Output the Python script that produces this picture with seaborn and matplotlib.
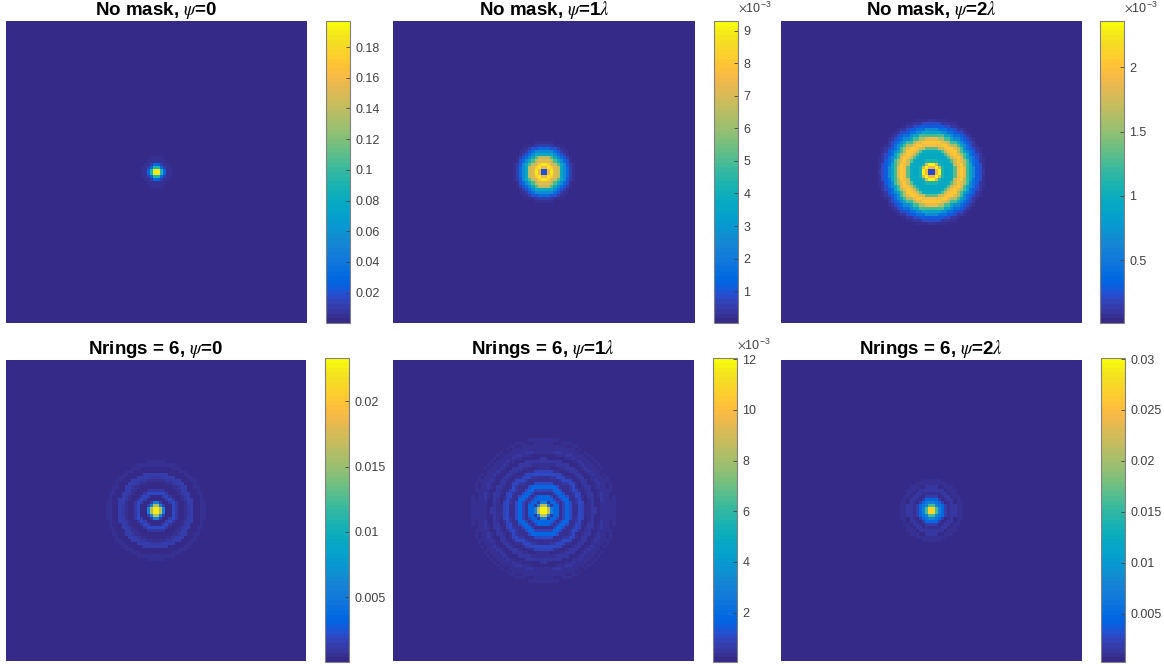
import numpy as np
import matplotlib
matplotlib.use("Agg")
import matplotlib.pyplot as plt
from matplotlib.colors import ListedColormap
import seaborn as sns

# MATLAB parula colormap (R2017a version)
parula = ListedColormap([
    [0.2081,0.1663,0.5292],[0.2116,0.1898,0.5777],[0.2123,0.2138,0.6270],[0.2081,0.2386,0.6771],
    [0.1959,0.2645,0.7279],[0.1707,0.2919,0.7792],[0.1253,0.3242,0.8303],[0.0591,0.3598,0.8683],
    [0.0117,0.3875,0.8820],[0.0060,0.4086,0.8828],[0.0165,0.4266,0.8786],[0.0329,0.4430,0.8720],
    [0.0498,0.4586,0.8641],[0.0629,0.4737,0.8554],[0.0723,0.4887,0.8467],[0.0779,0.5040,0.8384],
    [0.0793,0.5200,0.8312],[0.0749,0.5375,0.8263],[0.0641,0.5570,0.8240],[0.0488,0.5772,0.8228],
    [0.0343,0.5966,0.8199],[0.0265,0.6137,0.8135],[0.0239,0.6287,0.8038],[0.0231,0.6418,0.7913],
    [0.0228,0.6535,0.7768],[0.0267,0.6642,0.7607],[0.0384,0.6743,0.7436],[0.0590,0.6838,0.7254],
    [0.0843,0.6928,0.7062],[0.1133,0.7015,0.6859],[0.1453,0.7098,0.6646],[0.1801,0.7177,0.6424],
    [0.2178,0.7250,0.6193],[0.2586,0.7317,0.5954],[0.3022,0.7376,0.5712],[0.3482,0.7424,0.5473],
    [0.3953,0.7459,0.5244],[0.4420,0.7481,0.5033],[0.4871,0.7491,0.4840],[0.5300,0.7491,0.4661],
    [0.5709,0.7485,0.4494],[0.6099,0.7473,0.4337],[0.6473,0.7456,0.4188],[0.6834,0.7435,0.4044],
    [0.7184,0.7411,0.3905],[0.7525,0.7384,0.3768],[0.7858,0.7356,0.3633],[0.8185,0.7327,0.3498],
    [0.8507,0.7299,0.3360],[0.8824,0.7274,0.3217],[0.9139,0.7258,0.3063],[0.9450,0.7261,0.2886],
    [0.9739,0.7314,0.2666],[0.9938,0.7455,0.2403],[0.9990,0.7653,0.2164],[0.9955,0.7861,0.1967],
    [0.9880,0.8066,0.1794],[0.9789,0.8271,0.1633],[0.9697,0.8481,0.1475],[0.9626,0.8705,0.1309],
    [0.9589,0.8949,0.1132],[0.9598,0.9218,0.0948],[0.9661,0.9514,0.0755],[0.9763,0.9831,0.0538]])

# radial intensity, one value per radius step from the centre
nomask_0 = [0.197, 0.19, 0.09, 0.03, 0.012, 0.006, 0.004, 0.002, 0.0005]
nomask_1 = [1.0, 1.0, 7.5, 9.0, 8.2, 7.2, 6.6, 5.0, 3.7, 2.6, 1.6, 0.9, 0.5, 0.2, 0.07, 0.02]
nomask_2 = [0.15, 0.2, 1.9, 2.3, 1.8, 1.1, 0.95, 0.95, 0.95, 1.0, 1.3, 1.7, 1.95, 2.05, 1.85, 1.6,
            1.25, 0.9, 0.65, 0.45, 0.3, 0.2, 0.12, 0.07, 0.04, 0.02, 0.01]
rings6_0 = [0.0233, 0.0225, 0.016, 0.0055, 0.0012, 0.0004, 0.0004, 0.0012, 0.0019, 0.0011, 0.0003, 0.0002,
            0.0002, 0.0005, 0.0009, 0.0015, 0.0012, 0.0004, 0.0002, 0.0004, 0.0006, 0.0005, 0.0003,
            0.0003, 0.0004, 0.0004, 0.0002, 0.0002, 0.0003, 0.0001]
rings6_1 = [12.0, 11.8, 8.5, 3.0, 0.6, 1.8, 1.9, 0.9, 0.3, 0.9, 1.9, 1.9, 1.0, 0.3, 0.3, 0.6, 1.0, 0.9,
            0.4, 0.15, 0.25, 0.55, 0.5, 0.2, 0.15, 0.35, 0.45, 0.25, 0.3, 0.35, 0.15, 0.25, 0.1, 0.05]
rings6_2 = [0.0301, 0.027, 0.016, 0.0075, 0.006, 0.0045, 0.002, 0.0007, 0.001, 0.0016, 0.0013, 0.0006,
            0.0011, 0.001, 0.0004, 0.0002]

titles = ["No mask, $\\psi$=0", "No mask, $\\psi$=1$\\lambda$", "No mask, $\\psi$=2$\\lambda$",
          "Nrings = 6, $\\psi$=0", "Nrings = 6, $\\psi$=1$\\lambda$", "Nrings = 6, $\\psi$=2$\\lambda$"]
profiles = [nomask_0, nomask_1, nomask_2, rings6_0, rings6_1, rings6_2]
vmins = [0.0002, 0.02, 0.01, 0.00005, 0.05, 0.00024]
vmaxs = [0.197, 9.3, 2.36, 0.0233, 12.05, 0.0301]
ticks = [[0.02, 0.04, 0.06, 0.08, 0.1, 0.12, 0.14, 0.16, 0.18],
         [1, 2, 3, 4, 5, 6, 7, 8, 9],
         [0.5, 1, 1.5, 2],
         [0.005, 0.01, 0.015, 0.02],
         [2, 4, 6, 8, 10, 12],
         [0.005, 0.01, 0.015, 0.02, 0.025, 0.03]]
tick_labels = [["0.02", "0.04", "0.06", "0.08", "0.1", "0.12", "0.14", "0.16", "0.18"],
               ["1", "2", "3", "4", "5", "6", "7", "8", "9"],
               ["0.5", "1", "1.5", "2"],
               ["0.005", "0.01", "0.015", "0.02"],
               ["2", "4", "6", "8", "10", "12"],
               ["0.005", "0.01", "0.015", "0.02", "0.025", "0.03"]]
scaled = [False, True, True, False, True, False]

# pixel boxes in the picture: left, right, top, bottom
ax_boxes = [(6, 307, 21, 323), (393, 695, 21, 323), (781, 1082, 21, 323),
            (6, 306, 360, 661), (393, 694, 360, 661), (781, 1082, 360, 661)]
cb_boxes = [(326, 350, 21, 323), (714, 738, 21, 323), (1100, 1124, 21, 323),
            (325, 349, 358, 662), (713, 737, 358, 662), (1101, 1125, 358, 662)]

W, H = 1164, 666
N = 96
STEPS_PER_CELL = 1.36

plt.rcParams['font.family'] = ['Liberation Sans', 'DejaVu Sans']
plt.rcParams['mathtext.fontset'] = 'stix'
gray = '#404040'


def to_fig(box):
    l, r, t, b = box
    return [l / W, 1 - b / H, (r - l) / W, (b - t) / H]


def radial_grid(profile):
    # each cell takes the profile entry of its distance from the centre
    yy, xx = np.indices((N, N)) - (N - 1) / 2
    idx = np.rint(np.hypot(xx, yy) * STEPS_PER_CELL).astype(int)
    vals = np.array(list(profile) + [0.0])
    return vals[np.minimum(idx, len(profile))]


fig = plt.figure(figsize=(W / 100, H / 100), dpi=100)

for i in range(6):
    ax = fig.add_axes(to_fig(ax_boxes[i]))
    cax = fig.add_axes(to_fig(cb_boxes[i]))
    sns.heatmap(radial_grid(profiles[i]), ax=ax, cbar_ax=cax, cmap=parula,
                vmin=vmins[i], vmax=vmaxs[i], square=False,
                xticklabels=False, yticklabels=False,
                cbar_kws={'ticks': ticks[i]})
    ax.set_title(titles[i], fontsize=13.5, fontweight='bold', color='black', pad=3)
    ax.tick_params(length=0)

    cb = ax.collections[0].colorbar
    cb.set_ticklabels(tick_labels[i])
    cb.outline.set_edgecolor('#808080')
    cb.outline.set_linewidth(0.8)
    cax.tick_params(direction='in', length=3, width=0.6, color=gray, labelcolor=gray,
                    labelsize=9, pad=4)
    if scaled[i]:
        cax.text(1.0, 1.02, "$\\times$10$^{\\mathregular{-3}}$", transform=cax.transAxes, color=gray,
                 fontsize=9, ha='left', va='bottom')

fig.savefig("out.png", dpi=100)
